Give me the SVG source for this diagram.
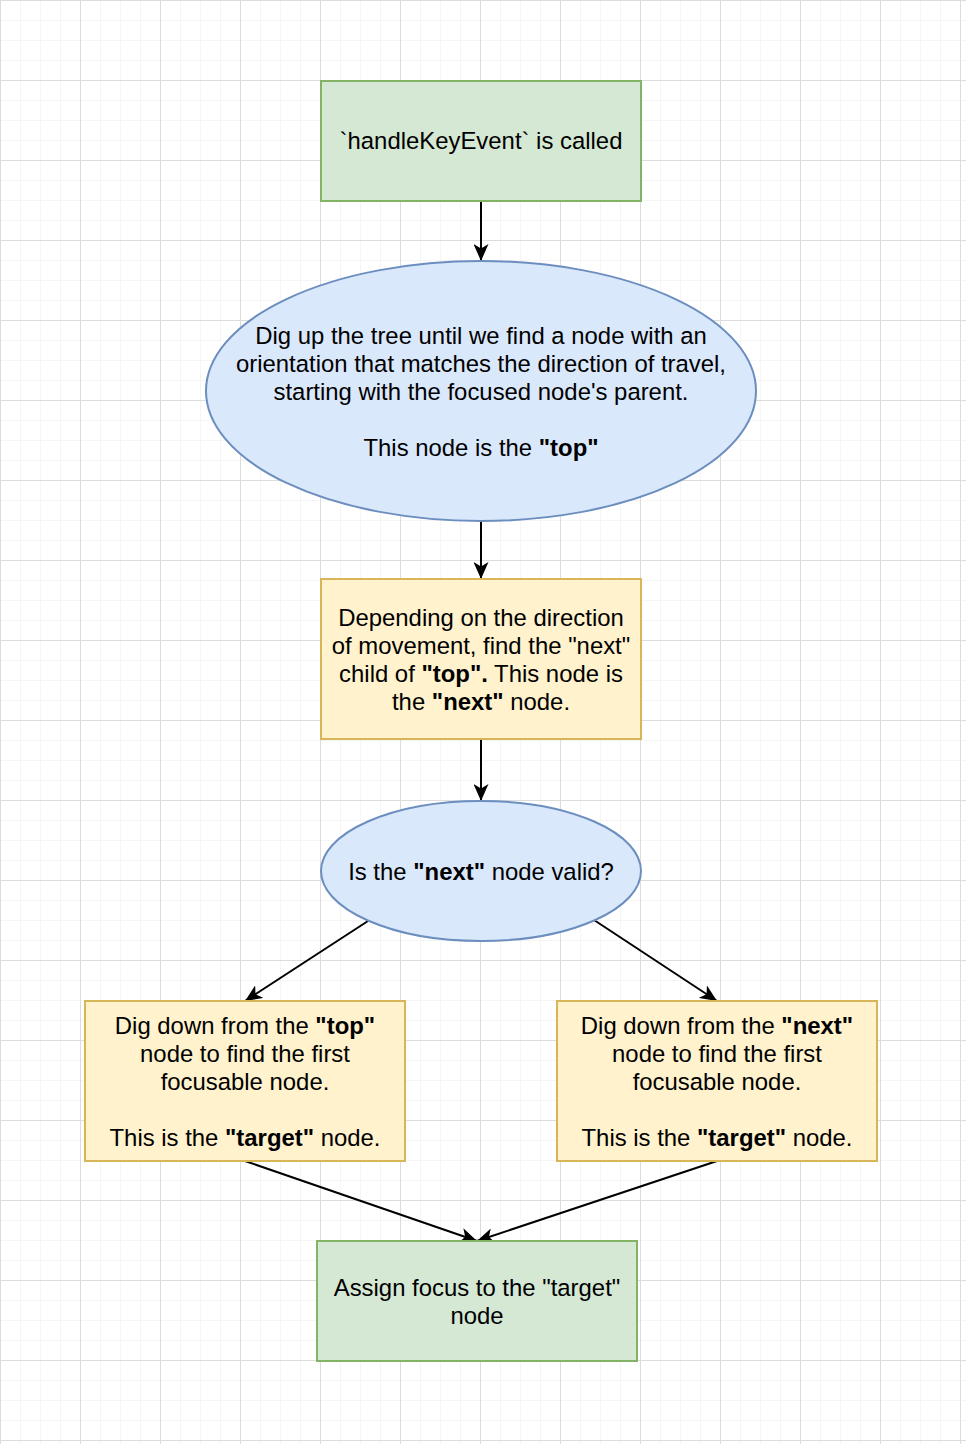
<svg xmlns="http://www.w3.org/2000/svg" width="966" height="1444" viewBox="0 0 966 1444">
<style>
text{font-family:"Liberation Sans",Arial,Helvetica,sans-serif;font-size:23.9px;fill:#000;text-anchor:middle}
.b{font-weight:bold}
.g{fill:#d5e8d4;stroke:#82b366;stroke-width:2}
.y{fill:#fff2cc;stroke:#d6b656;stroke-width:2}
.bl{fill:#dae8fc;stroke:#6c8ebf;stroke-width:2}
.e{fill:none;stroke:#000;stroke-width:2}
</style>
<defs>
<pattern id="minor" width="20" height="20" patternUnits="userSpaceOnUse">
<path d="M0.5,0 V20 M0,0.5 H20" stroke="#f5f5f5" stroke-width="1" fill="none"/>
</pattern>
<pattern id="major" width="80" height="80" patternUnits="userSpaceOnUse">
<path d="M0.5,0 V80 M0,0.5 H80" stroke="#dcdcdc" stroke-width="1" fill="none"/>
</pattern>
<marker id="arr" viewBox="0 0 17 15" refX="17" refY="7.5" markerWidth="17" markerHeight="15" markerUnits="userSpaceOnUse" orient="auto">
<path d="M17,7.5 L0,0 L4.5,7.5 L0,15 Z" fill="#000"/>
</marker>
</defs>
<rect width="966" height="1444" fill="#fff"/>
<rect width="966" height="1444" fill="url(#minor)"/>
<rect width="966" height="1444" fill="url(#major)"/>
<g id="connectors">
<path class="e" d="M481,201 L481,261" marker-end="url(#arr)"/>
<path class="e" d="M481,521 L481,579" marker-end="url(#arr)"/>
<path class="e" d="M481,739 L481,801" marker-end="url(#arr)"/>
<path class="e" d="M368,921 L245,1001" marker-end="url(#arr)"/>
<path class="e" d="M594,920 L717,1001" marker-end="url(#arr)"/>
<path class="e" d="M245,1161 L477,1241" marker-end="url(#arr)"/>
<path class="e" d="M717,1161 L477,1241" marker-end="url(#arr)"/>
</g>
<g id="start">
<rect class="g" x="321" y="81" width="320" height="120"/>
<text x="481" y="149">`handleKeyEvent` is called</text>
</g>
<g id="digup">
<ellipse class="bl" cx="481" cy="391" rx="275" ry="130"/>
<text x="481" y="344">Dig up the tree until we find a node with an</text>
<text x="481" y="372">orientation that matches the direction of travel,</text>
<text x="481" y="400">starting with the focused node's parent.</text>
<text x="481" y="456">This node is the <tspan class="b">"top"</tspan></text>
</g>
<g id="findnext">
<rect class="y" x="321" y="579" width="320" height="160"/>
<text x="481" y="626">Depending on the direction</text>
<text x="481" y="654">of movement, find the "next"</text>
<text x="481" y="682">child of <tspan class="b">"top".</tspan> This node is</text>
<text x="481" y="710">the <tspan class="b">"next"</tspan> node.</text>
</g>
<g id="valid">
<ellipse class="bl" cx="481" cy="871" rx="160" ry="70"/>
<text x="481" y="880">Is the <tspan class="b">"next"</tspan> node valid?</text>
</g>
<g id="fromtop">
<rect class="y" x="85" y="1001" width="320" height="160"/>
<text x="245" y="1034">Dig down from the <tspan class="b">"top"</tspan></text>
<text x="245" y="1062">node to find the first</text>
<text x="245" y="1090">focusable node.</text>
<text x="245" y="1146">This is the <tspan class="b">"target"</tspan> node.</text>
</g>
<g id="fromnext">
<rect class="y" x="557" y="1001" width="320" height="160"/>
<text x="717" y="1034">Dig down from the <tspan class="b">"next"</tspan></text>
<text x="717" y="1062">node to find the first</text>
<text x="717" y="1090">focusable node.</text>
<text x="717" y="1146">This is the <tspan class="b">"target"</tspan> node.</text>
</g>
<g id="assign">
<rect class="g" x="317" y="1241" width="320" height="120"/>
<text x="477" y="1296">Assign focus to the "target"</text>
<text x="477" y="1324">node</text>
</g>
</svg>
